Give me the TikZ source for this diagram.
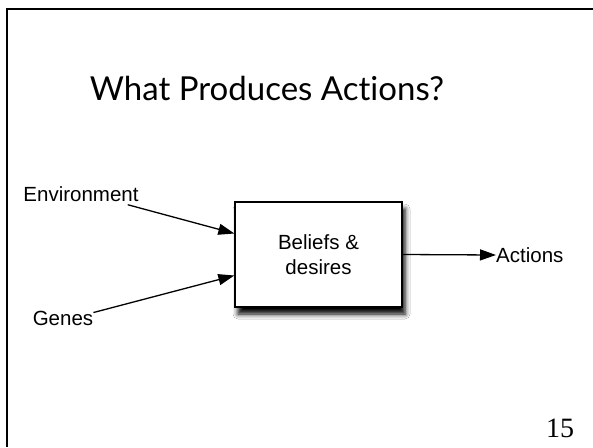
\documentclass[tikz,border=0pt]{standalone}
\usepackage{fontspec}
\setmainfont{Liberation Sans}
\newfontfamily\titlefont[Ligatures=NoCommon]{Lato}
\newfontfamily\numfont{Liberation Serif}
\usetikzlibrary{arrows.meta,shadows.blur}
\tikzset{
  label text/.style={inner sep=0pt, font=\fontsize{20.5}{24}\selectfont},
  flow/.style={-{Triangle[length=16pt,width=11pt]}, line width=1.3pt},
}
\begin{document}
\begin{tikzpicture}[x=1pt, y=-1pt]
            \useasboundingbox (0,0) rectangle (593,447);
            \fill[white] (0,0) rectangle (593,447);
            \draw [line width=2pt] (6.5,447) -- (6.5,9) -- (593,9);
            \node (title) at (267,88) {\titlefont\fontsize{33}{38}\selectfont What Produces Actions?};
            \node [draw, fill=white, line width=1.3pt, minimum width=167pt, minimum height=105pt,
                   blur shadow={shadow xshift=3pt, shadow yshift=-7pt, shadow blur radius=5pt, shadow opacity=100},
                   align=center, font=\fontsize{20.5}{25}\selectfont] (beliefs) at (318.5,254.5) {Beliefs \&\\desires};
            \node [label text] (env) at (81,194) {Environment};
            \node [label text] (genes) at (63,318) {Genes};
            \node [label text, anchor=west] (actions) at (496,255) {Actions};
            \node [inner sep=0pt] (page) at (560,428) {\numfont\fontsize{28}{30}\selectfont 15};
            \draw [flow] ([xshift=-11pt, yshift=-3pt]env.south east) -- ([yshift=21pt]beliefs.west);
            \draw [flow] ([yshift=-2pt]genes.north east) -- ([yshift=-21pt]beliefs.west);
            \draw [flow] (beliefs.east) -- (actions.west);
\end{tikzpicture}
\end{document}
